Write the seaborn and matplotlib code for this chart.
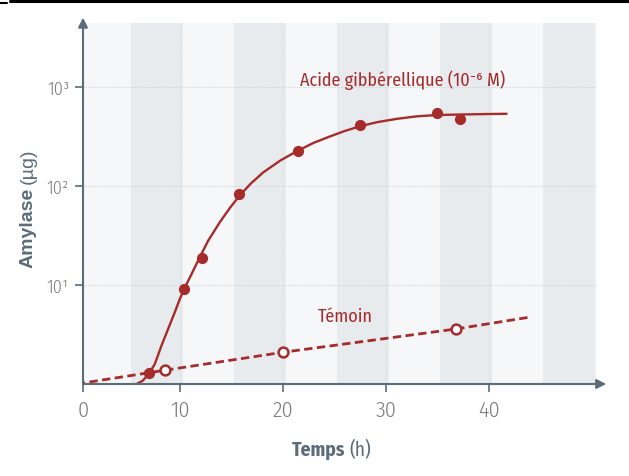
import matplotlib
matplotlib.use('Agg')
import matplotlib.pyplot as plt
from matplotlib import font_manager
from matplotlib.lines import Line2D
from matplotlib.patches import Rectangle
import seaborn as sns
import pandas as pd

# Acide gibbérellique: mesures (points pleins)
ga_temps = [7.02, 10.42, 12.2, 15.76, 21.49, 27.54, 34.92, 37.18]
ga_amylase = [1.28, 9.1, 18.6, 83, 224, 413, 540, 478]

# courbe ajustée
ga_courbe_temps = [5.8, 6.4, 7.02, 7.57, 8.22, 8.86, 9.51, 10.0, 10.42, 11.14, 11.94,
                   12.75, 13.88, 14.85, 15.76, 16.9, 18.09, 19.8, 21.49, 23.0, 24.56,
                   26.0, 27.54, 29.2, 31.04, 33.0, 34.92, 37.18, 39.5, 41.72]
ga_courbe_amylase = [1.0, 1.08, 1.28, 1.59, 2.44, 3.59, 5.3, 7.22, 9.12, 12.9, 19.1,
                     28.0, 43, 59.8, 79, 106, 137, 182, 228, 273, 316,
                     359, 402, 442, 476, 505, 520, 527, 532, 536]

# Témoin (points vides + droite en tirets)
temoin_temps = [8.6, 20.0, 36.85]
temoin_amylase = [1.38, 2.09, 3.6]
temoin_ligne_temps = [0.0, 8.6, 20.0, 36.85, 43.9]
temoin_ligne_amylase = [1.0, 1.38, 2.09, 3.6, 4.72]

x_ticks = [0.6, 10, 20, 30, 40]
x_ticklabels = ['0', '10', '20', '30', '40']
y_ticks = [10, 100, 1000]
y_ticklabels = ['10¹', '10²', '10³']

RED = '#a62b2b'
SLATE = '#5b6c7b'
GREY = '#7c7c7c'

# police étroite si disponible
names = {f.name for f in font_manager.fontManager.ttflist}
choix = ['Fira Sans Condensed', 'PT Sans Narrow', 'Open Sans Condensed', 'Roboto Condensed',
         'Barlow Semi Condensed', 'Archivo Narrow', 'Lato']
COND = next((n for n in choix if n in names), 'DejaVu Sans')

sns.set_style('white')
plt.rcParams['font.family'] = [COND, 'DejaVu Sans']

fig = plt.figure(figsize=(6.29, 4.77), dpi=100)
ax = fig.add_axes([83 / 629, 1 - 385 / 477, (597 - 83) / 629, (385 - 24) / 477])
ax.set_yscale('log')
ax.set_xlim(0.6, 50.5)
ax.set_ylim(1, 10 ** 3.646)

# bandes verticales alternées
ax.set_facecolor('#f5f7f9')
for x0 in range(5, 50, 10):
    ax.add_patch(Rectangle((x0 + 0.3, 0), 5, 1, transform=ax.get_xaxis_transform(),
                           color='#e8ebee', lw=0, zorder=0))

for y in y_ticks:
    ax.axhline(y, color='#d3d7db', lw=0.8, ls=(0, (1, 1)), zorder=1)
for x in x_ticks[1:]:
    ax.axvline(x, color='#dde0e4', lw=0.8, ls=(0, (1, 1)), zorder=1)

df_courbe = pd.DataFrame({'t': ga_courbe_temps, 'a': ga_courbe_amylase})
df_ga = pd.DataFrame({'t': ga_temps, 'a': ga_amylase})
df_tl = pd.DataFrame({'t': temoin_ligne_temps, 'a': temoin_ligne_amylase})
df_tm = pd.DataFrame({'t': temoin_temps, 'a': temoin_amylase})

sns.lineplot(data=df_tl, x='t', y='a', ax=ax, color=RED, lw=2.0,
             linestyle=(0, (3, 1.6)), zorder=3)
sns.lineplot(data=df_courbe, x='t', y='a', ax=ax, color=RED, lw=1.7, zorder=3)
sns.scatterplot(data=df_ga, x='t', y='a', ax=ax, color=RED, s=65, edgecolor=RED,
                linewidth=0, zorder=4)
sns.scatterplot(data=df_tm, x='t', y='a', ax=ax, color='white', s=50, edgecolor=RED,
                linewidth=1.8, zorder=4)

ax.text(31.6, 10 ** 3.08, 'Acide gibbérellique (10⁻⁶ M)', color=RED, fontsize=13,
        ha='center', va='center')
ax.text(26.1, 10 ** 0.69, 'Témoin', color=RED, fontsize=13, ha='center', va='center')

# axes avec flèches
for s in ax.spines.values():
    s.set_visible(False)
ax.annotate('', xy=(0, 1.015), xytext=(0, 0), xycoords='axes fraction',
            arrowprops=dict(arrowstyle='-|>', color=SLATE, lw=1.5, mutation_scale=14,
                            shrinkA=0, shrinkB=0))
ax.annotate('', xy=(1.018, 0), xytext=(0, 0), xycoords='axes fraction',
            arrowprops=dict(arrowstyle='-|>', color=SLATE, lw=1.5, mutation_scale=14,
                            shrinkA=0, shrinkB=0))

ax.set_xticks(x_ticks)
ax.set_xticklabels(x_ticklabels, fontsize=16, color=GREY, fontweight=300)
ax.set_yticks(y_ticks)
ax.set_yticklabels(y_ticklabels, fontsize=13, color=GREY, fontweight=300)
ax.minorticks_off()
ax.tick_params(axis='both', which='major', length=6, width=1.2, color=SLATE,
               direction='out', left=True, bottom=True, pad=5)
ax.tick_params(axis='y', pad=4)
ax.set_xlabel('')
ax.set_ylabel('')

# titres d'axes : partie grasse + partie normale
fig.text(345 / 629, 1 - 450 / 477, 'Temps', fontsize=14, fontweight='bold', color=SLATE,
         ha='right', va='center')
fig.text(349 / 629, 1 - 450 / 477, '(h)', fontsize=14, color=SLATE, ha='left', va='center')
fig.text(28 / 629, 1 - 188 / 477, 'Amylase', fontsize=14, fontweight='bold', color=SLATE,
         family=['Liberation Sans', 'DejaVu Sans'], rotation=90, ha='center', va='top')
fig.text(28 / 629, 1 - 184 / 477, '(µg)', fontsize=14, color=SLATE,
         family=['Liberation Sans', 'DejaVu Sans'], rotation=90, ha='center', va='bottom')

# filet noir en haut
fig.add_artist(Line2D([10 / 629, 1], [1 - 1.5 / 477] * 2, color='black', lw=2.2))
fig.add_artist(Line2D([0, 7 / 629], [1 - 4 / 477] * 2, color='black', lw=1.5))

fig.savefig('out.png', dpi=100)
